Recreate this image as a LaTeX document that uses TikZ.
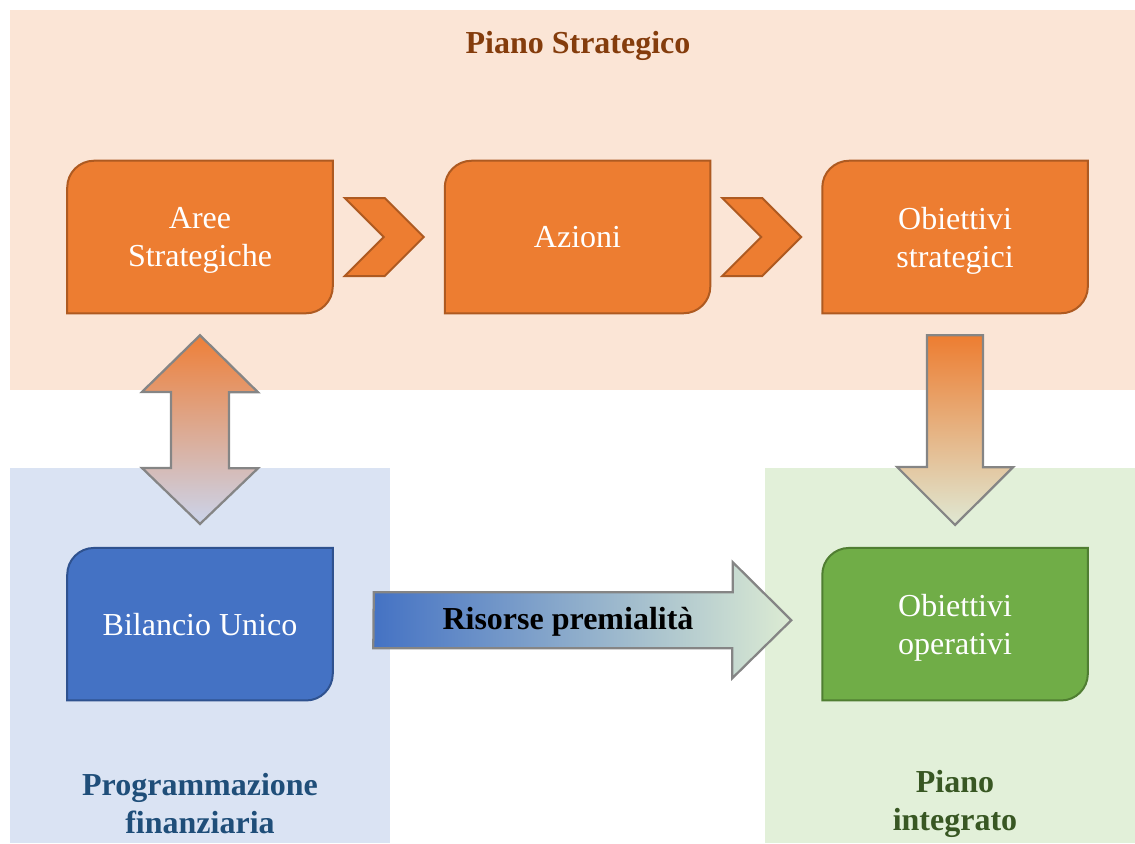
\documentclass[tikz,border=0pt]{standalone}
\usepackage{fontspec}
\setmainfont{Liberation Serif}
\usetikzlibrary{positioning,calc}

\definecolor{orfill}{HTML}{ED7D31}
\definecolor{ordraw}{HTML}{AE5A21}
\definecolor{blfill}{HTML}{4472C4}
\definecolor{bldraw}{HTML}{2F528F}
\definecolor{grfill}{HTML}{70AD47}
\definecolor{grdraw}{HTML}{507E32}
\definecolor{orbg}{HTML}{FBE5D6}
\definecolor{blbg}{HTML}{DAE3F3}
\definecolor{grbg}{HTML}{E2F0D9}
\definecolor{ortitle}{HTML}{843C0C}
\definecolor{bltitle}{HTML}{1F4E79}
\definecolor{grtitle}{HTML}{385723}
\definecolor{arrowline}{HTML}{858585}
\definecolor{dbltop}{HTML}{EE7F38}
\definecolor{dblbot}{HTML}{CBD4EB}
\definecolor{downbot}{HTML}{DFE8D3}
\definecolor{risend}{HTML}{DCEBD3}

\pgfdeclarelayer{back}
\pgfdeclarelayer{shapes}
\pgfsetlayers{back,shapes,main}

\tikzset{
  box/.style={minimum width=198.75pt, minimum height=114pt, inner sep=0pt,
    align=center, text=white, text depth=0pt, font=\fontsize{24}{28.5}\selectfont},
  orbox/.style={fill=orfill, draw=ordraw, line width=1.5pt},
  blbox/.style={fill=blfill, draw=bldraw, line width=1.5pt},
  grbox/.style={fill=grfill, draw=grdraw, line width=1.5pt},
  chev/.style={fill=orfill, draw=ordraw, line width=1.5pt},
  bigarrow/.style={draw=arrowline, line width=1.7pt},
  zonelabel/.style={align=center, font=\bfseries\fontsize{24}{28.5}\selectfont},
}

% outline with rounded top left and bottom right corners
\newcommand{\roundbox}[2]{%
  \draw[#2] ([yshift=-20pt]#1.north west) .. controls ([yshift=-9pt]#1.north west) and ([xshift=9pt]#1.north west) .. ([xshift=20pt]#1.north west)
    -- (#1.north east) -- ([yshift=20pt]#1.south east) .. controls ([yshift=9pt]#1.south east) and ([xshift=-9pt]#1.south east) .. ([xshift=-20pt]#1.south east)
    -- (#1.south west) -- cycle;}

\begin{document}
\begin{tikzpicture}[x=0.75pt, y=-0.75pt]
  \useasboundingbox (0,0) rectangle (1135,843);
  \begin{pgfonlayer}{back}
    \fill[orbg] (10,10) rectangle (1135,390);
    \fill[blbg] (10,468) rectangle (390,843);
    \fill[grbg] (765,468) rectangle (1135,843);
  \end{pgfonlayer}

  \node[zonelabel, text=ortitle] (pstrat)  at (578,46)  {Piano Strategico};
  \node[zonelabel, text=bltitle] (progfin) at (200,804) {Programmazione\\finanziaria};
  \node[zonelabel, text=grtitle] (pint)    at (955,804) {Piano\\integrato};

  \node[box]                       (aree)     at (200,237) {Aree\\Strategiche};
  \node[box, right=84pt of aree]   (azioni)   {Azioni};
  \node[box, right=84pt of azioni] (obstrat)  {Obiettivi\\strategici};
  \node[box, below=176pt of aree]  (bilancio) {Bilancio Unico};
  \node[box, below=176pt of obstrat] (oboper) {Obiettivi\\operativi};

  \begin{pgfonlayer}{shapes}
    \roundbox{aree}{orbox}
    \roundbox{azioni}{orbox}
    \roundbox{obstrat}{orbox}
    \roundbox{bilancio}{blbox}
    \roundbox{oboper}{grbox}
  \end{pgfonlayer}

  \coordinate (ch1) at ($(aree.east)!0.5!(azioni.west)$);
  \coordinate (ch2) at ($(azioni.east)!0.5!(obstrat.west)$);
  \foreach \c in {ch1,ch2}
    \draw[chev] ($(\c)+(-44,-39)$) -- ++(40,0) -- ++(39,39) -- ++(-39,39)
      -- ++(-40,0) -- ++(39,-39) -- cycle;

  \draw[bigarrow, top color=dbltop, bottom color=dblbot]
    ($(aree.south)+(0,22)$) -- ++(58,57) -- ++(-29,0) -- ++(0,76) -- ++(29,0)
    -- ($(bilancio.north)+(0,-24)$) -- ++(-58,-56) -- ++(29,0) -- ++(0,-76)
    -- ++(-29,0) -- cycle;

  \draw[bigarrow, top color=orfill, bottom color=downbot]
    ($(obstrat.south)+(-28,22)$) -- ++(56,0) -- ++(0,132) -- ++(30,0)
    -- ($(oboper.north)+(0,-23)$) -- ++(-58,-58) -- ++(30,0) -- cycle;

  \draw[bigarrow, left color=blfill, right color=risend]
    ($(bilancio.east)+(41,-32)$) -- ++(359,0) -- ++(0,-30)
    -- ($(oboper.west)+(-31,-4)$) -- ++(-59,58) -- ++(0,-30) -- ++(-359,0) -- cycle;
  \node[font=\bfseries\fontsize{24}{28}\selectfont] (risorse) at (568,622) {Risorse premialità};
\end{tikzpicture}
\end{document}
